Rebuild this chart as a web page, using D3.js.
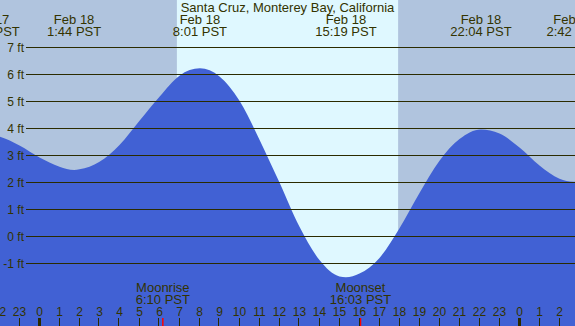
<!DOCTYPE html>
<html>
<head>
<meta charset="utf-8">
<script src="https://cdn.jsdelivr.net/npm/d3@7"></script>
<style>
  html, body { margin: 0; padding: 0; background: #b0c4de; }
  svg { display: block; font-family: "Liberation Sans", Arial, sans-serif; }
</style>
</head>
<body>
<svg id="tide" width="575" height="326"></svg>
<script>
// tide height (ft), hours from midnight Feb 18 (PST)
var sampleHours   = [-3, -2.55, -2, -1, 0, 1, 1.73, 2, 3, 4, 5, 6, 7, 8.02, 9, 10, 11, 12, 13, 14, 15, 15.32, 16, 17, 18, 19, 20, 21, 22.07, 23, 24, 25, 26, 26.7, 27];
var sampleHeights = [3.73, 3.75, 3.69, 3.36, 2.92, 2.58, 2.46, 2.48, 2.76, 3.38, 4.28, 5.17, 5.95, 6.22, 5.92, 5.02, 3.58, 1.99, 0.35, -0.88, -1.49, -1.52, -1.38, -0.8, 0.3, 1.6, 2.8, 3.6, 3.96, 3.81, 3.29, 2.62, 2.13, 2.02, 2.04];

// high / low tide labels
var extremeHours = [-2.52, 1.73, 8.02, 15.32, 22.07, 26.7];
var extremeDates = ["Feb 17", "Feb 18", "Feb 18", "Feb 18", "Feb 18", "Feb 19"];
var extremeTimes = ["21:29 PST", "1:44 PST", "8:01 PST", "15:19 PST", "22:04 PST", "2:42 PST"];

var sunHours = [6.87, 17.93];          // sunrise, sunset
var moonNames = ["Moonrise", "Moonset"];
var moonTimes = ["6:10 PST", "16:03 PST"];
var moonHours = [6.167, 16.05];

var levels = [7, 6, 5, 4, 3, 2, 1, 0, -1];
var hourTicks = d3.range(-2, 27);

var title = "Santa Cruz, Monterey Bay, California";

var width = 575, height = 326;
var ink = "#333300";

var x = d3.scaleLinear().domain([-1.975, 26.775]).range([0, width]);
var y = d3.scaleLinear().domain([-1, 7]).range([263.3, 47.3]);

var svg = d3.select("#tide");

// night background
svg.append("rect")
  .attr("width", width).attr("height", height)
  .attr("fill", "#b0c4de");

// daylight
svg.append("rect")
  .attr("x", x(sunHours[0])).attr("y", 0)
  .attr("width", x(sunHours[1]) - x(sunHours[0]))
  .attr("height", height)
  .attr("fill", "#dff8ff");

// water
var pts = sampleHours.map(function(h, i){ return [h, sampleHeights[i]]; });
var area = d3.area()
  .x(function(d){ return x(d[0]); })
  .y0(height)
  .y1(function(d){ return y(d[1]); })
  .curve(d3.curveMonotoneX);

svg.append("path")
  .datum(pts)
  .attr("d", area)
  .attr("fill", "#4161d4");

// level lines
var lv = svg.append("g");
lv.selectAll("line")
  .data(levels).enter()
  .append("line")
  .attr("x1", 26).attr("x2", width)
  .attr("y1", function(d){ return Math.floor(y(d)) + 0.5; })
  .attr("y2", function(d){ return Math.floor(y(d)) + 0.5; })
  .attr("stroke", "#2b2b00")
  .attr("stroke-width", 1);

lv.selectAll("text")
  .data(levels).enter()
  .append("text")
  .attr("x", 24)
  .attr("y", function(d){ return Math.floor(y(d)) + 4.5; })
  .attr("text-anchor", "end")
  .attr("font-size", 12)
  .attr("fill", ink)
  .text(function(d){ return d + " ft"; });

// title
svg.append("text")
  .attr("x", width / 2).attr("y", 12)
  .attr("text-anchor", "middle")
  .attr("font-size", 13)
  .attr("fill", ink)
  .text(title);

// extreme labels
var ex = svg.append("g").selectAll("g")
  .data(extremeHours).enter()
  .append("g")
  .attr("transform", function(d){ return "translate(" + x(d) + ",0)"; });

ex.append("text")
  .attr("y", 24)
  .attr("text-anchor", "middle")
  .attr("font-size", 13)
  .attr("fill", ink)
  .text(function(d, i){ return extremeDates[i]; });

ex.append("text")
  .attr("y", 36)
  .attr("text-anchor", "middle")
  .attr("font-size", 13)
  .attr("fill", ink)
  .text(function(d, i){ return extremeTimes[i]; });

// moon events
var mo = svg.append("g").selectAll("g")
  .data(moonHours).enter()
  .append("g")
  .attr("transform", function(d){ return "translate(" + x(d) + ",0)"; });

mo.append("text")
  .attr("y", 292)
  .attr("text-anchor", "middle")
  .attr("font-size", 13)
  .attr("fill", ink)
  .text(function(d, i){ return moonNames[i]; });

mo.append("text")
  .attr("y", 304)
  .attr("text-anchor", "middle")
  .attr("font-size", 13)
  .attr("fill", ink)
  .text(function(d, i){ return moonTimes[i]; });

mo.append("line")
  .attr("x1", 0).attr("x2", 0)
  .attr("y1", 318).attr("y2", height)
  .attr("stroke", "#ff0000")
  .attr("stroke-width", 1.5);

// hour axis
var hr = svg.append("g");
hr.selectAll("line")
  .data(hourTicks).enter()
  .append("line")
  .attr("x1", function(d){ return Math.round(x(d)) - 0.5; })
  .attr("x2", function(d){ return Math.round(x(d)) - 0.5; })
  .attr("y1", 318).attr("y2", height)
  .attr("stroke", "#2b2b00")
  .attr("stroke-width", function(d){ return d % 24 === 0 ? 3 : 1; });

hr.selectAll("text")
  .data(hourTicks).enter()
  .append("text")
  .attr("x", function(d){ return x(d); })
  .attr("y", 316)
  .attr("text-anchor", "middle")
  .attr("font-size", 12)
  .attr("fill", ink)
  .text(function(d){ return (d % 24 + 24) % 24; });
</script>
</body>
</html>
